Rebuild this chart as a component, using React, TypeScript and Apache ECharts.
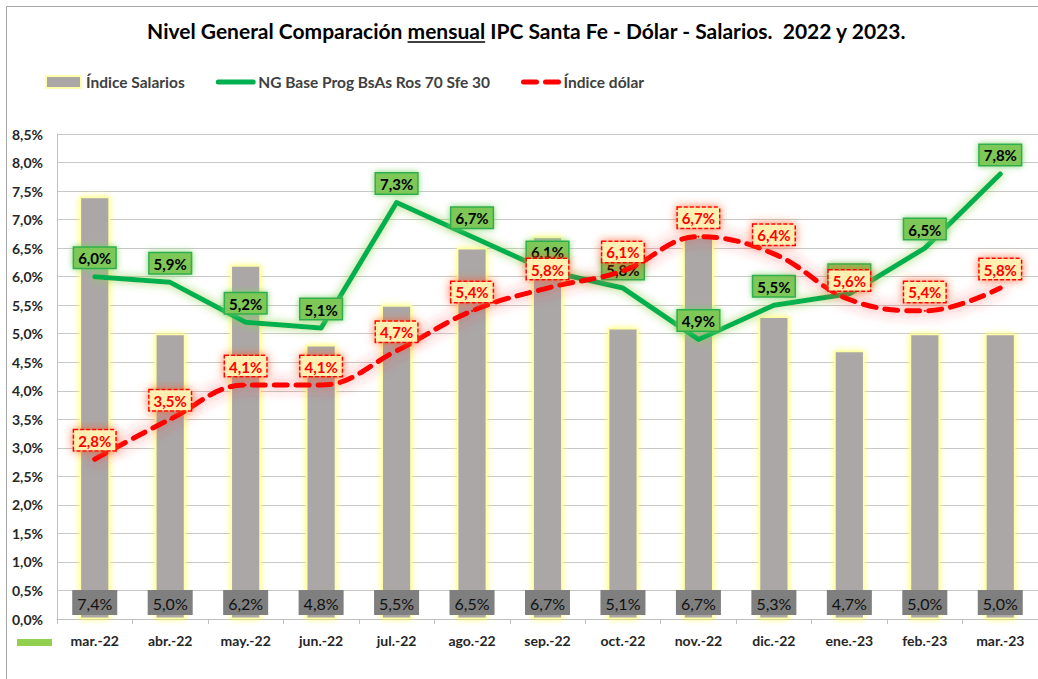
import React, { useEffect, useRef } from "react";
import * as echarts from "echarts";

const categories = ["mar.-22", "abr.-22", "may.-22", "jun.-22", "jul.-22", "ago.-22", "sep.-22", "oct.-22", "nov.-22", "dic.-22", "ene.-23", "feb.-23", "mar.-23"];
const salarios = [7.4, 5.0, 6.2, 4.8, 5.5, 6.5, 6.7, 5.1, 6.7, 5.3, 4.7, 5.0, 5.0];
const ngBase = [6.0, 5.9, 5.2, 5.1, 7.3, 6.7, 6.1, 5.8, 4.9, 5.5, 5.7, 6.5, 7.8];
const dolar = [2.8, 3.5, 4.1, 4.1, 4.7, 5.4, 5.8, 6.1, 6.7, 6.4, 5.6, 5.4, 5.8];
const seriesNames = ["Índice Salarios", "NG Base Prog BsAs Ros 70 Sfe 30", "Índice dólar"];
const titlePre = "Nivel General Comparación ";
const titleU = "mensual";
const titlePost = " IPC Santa Fe - Dólar - Salarios.  2022 y 2023.";

const FONT = "Lato, 'Liberation Sans', sans-serif";
const fmt = (v: number) => v.toFixed(1).replace(".", ",") + "%";

export default function App() {
  const ref = useRef<HTMLDivElement>(null);
  useEffect(() => {
    if (!ref.current) return;
    const chart = echarts.init(ref.current, undefined, { renderer: "svg" });
    const titleSize = 21;
    const titleFont = `bold ${titleSize}px ${FONT}`;
    const cv = document.createElement("canvas");
    const ctx = cv.getContext("2d")!;
    ctx.font = titleFont;
    const full = ctx.measureText(titlePre + titleU + titlePost).width;
    const preW = ctx.measureText(titlePre).width;
    const uW = ctx.measureText(titleU).width;
    const cx = 527;
    const ty = 30;
    const startX = cx - full / 2;

    chart.setOption({
      animation: false,
      backgroundColor: "#fff",
      textStyle: { fontFamily: FONT },
      graphic: [
        { type: "rect", shape: { x: 6.5, y: 6.5, width: 1200, height: 1000 }, style: { fill: "none", stroke: "#A6A6A6", lineWidth: 1 }, silent: true },
        { type: "text", x: startX, y: ty, style: { text: titlePre + titleU + titlePost, font: titleFont, fill: "#000", textAlign: "left", textVerticalAlign: "middle" } },
        { type: "line", shape: { x1: startX + preW, y1: ty + 12, x2: startX + preW + uW, y2: ty + 12 }, style: { stroke: "#000", lineWidth: 1.5 } },
        { type: "rect", shape: { x: 17, y: 639, width: 35, height: 7 }, style: { fill: "#92D050" } },
      ],
      legend: {
        left: 40,
        top: 69,
        itemWidth: 35,
        itemHeight: 12,
        itemGap: 31,
        textStyle: { fontSize: 15.5, fontWeight: "bold", color: "#404040", fontFamily: FONT },
        data: [
          { name: seriesNames[0], icon: "rect" },
          { name: seriesNames[1], itemStyle: { opacity: 0 }, lineStyle: { width: 5 } },
          { name: seriesNames[2], itemStyle: { opacity: 0 }, lineStyle: { width: 5 } },
        ],
      },
      grid: { left: 57, right: -1, top: 134, bottom: 60 },
      xAxis: {
        type: "category",
        data: categories,
        boundaryGap: true,
        axisLine: { lineStyle: { color: "#BFBFBF", width: 1 } },
        axisTick: { show: true, length: 5, lineStyle: { color: "#BFBFBF" } },
        axisLabel: { margin: 14, fontSize: 14, fontWeight: "bold", color: "#262626", fontFamily: FONT },
      },
      yAxis: {
        type: "value",
        min: 0,
        max: 8.5,
        interval: 0.5,
        axisLine: { show: true, lineStyle: { color: "#BFBFBF" } },
        axisTick: { show: false },
        splitLine: { lineStyle: { color: "#C8C8C8", width: 1 } },
        axisLabel: { margin: 14, fontSize: 14, fontWeight: "bold", color: "#262626", fontFamily: FONT, formatter: (v: number) => fmt(v) },
      },
      series: [
        {
          name: seriesNames[0],
          type: "bar",
          data: salarios,
          barWidth: "40%",
          z: 1,
          itemStyle: { color: "#ABA7A7", borderColor: "#FFFFA8", borderWidth: 1.5, shadowColor: "rgba(255,255,90,0.9)", shadowBlur: 6 },
          label: {
            show: true,
            position: "insideBottom",
            distance: 4,
            formatter: (p: any) => fmt(p.value),
            backgroundColor: "#7F7F7F",
            padding: [5, 5, 4, 5],
            color: "#111",
            fontSize: 16,
            fontFamily: FONT,
          },
        },
        {
          name: seriesNames[1],
          type: "line",
          data: ngBase,
          symbol: "circle",
          symbolSize: 2,
          z: 3,
          lineStyle: { color: "#00B050", width: 5, cap: "round", join: "round", shadowColor: "rgba(146,208,80,0.9)", shadowBlur: 10 },
          itemStyle: { color: "#00B050" },
          label: {
            show: true,
            position: "top",
            distance: 8,
            formatter: (p: any) => fmt(p.value),
            backgroundColor: "#7DC856",
            borderColor: "#2FAF4F",
            borderWidth: 1.5,
            padding: [3, 4, 2, 4],
            color: "#000",
            fontSize: 15,
            fontWeight: "bold",
            fontFamily: FONT,
            shadowColor: "rgba(120,210,100,0.9)",
            shadowBlur: 6,
          },
        },
        {
          name: seriesNames[2],
          type: "line",
          data: dolar,
          symbol: "circle",
          symbolSize: 2,
          smooth: 0.4,
          z: 4,
          lineStyle: { color: "#FF0000", width: 5, type: [13, 9], cap: "round", shadowColor: "rgba(255,50,50,0.75)", shadowBlur: 14 },
          itemStyle: { color: "#FF0000" },
          label: {
            show: true,
            position: "top",
            distance: 8,
            formatter: (p: any) => fmt(p.value),
            backgroundColor: "#FFEFB0",
            borderColor: "#FF0000",
            borderWidth: 1.5,
            borderType: [4, 2],
            padding: [3, 4, 2, 4],
            color: "#FF0000",
            fontSize: 15,
            fontWeight: "bold",
            fontFamily: FONT,
            shadowColor: "rgba(255,90,40,0.85)",
            shadowBlur: 10,
          },
        },
      ],
    });
    return () => chart.dispose();
  }, []);
  return <div ref={ref} style={{ position: "fixed", left: 0, top: 0, width: 1038, height: 679 }} />;
}
